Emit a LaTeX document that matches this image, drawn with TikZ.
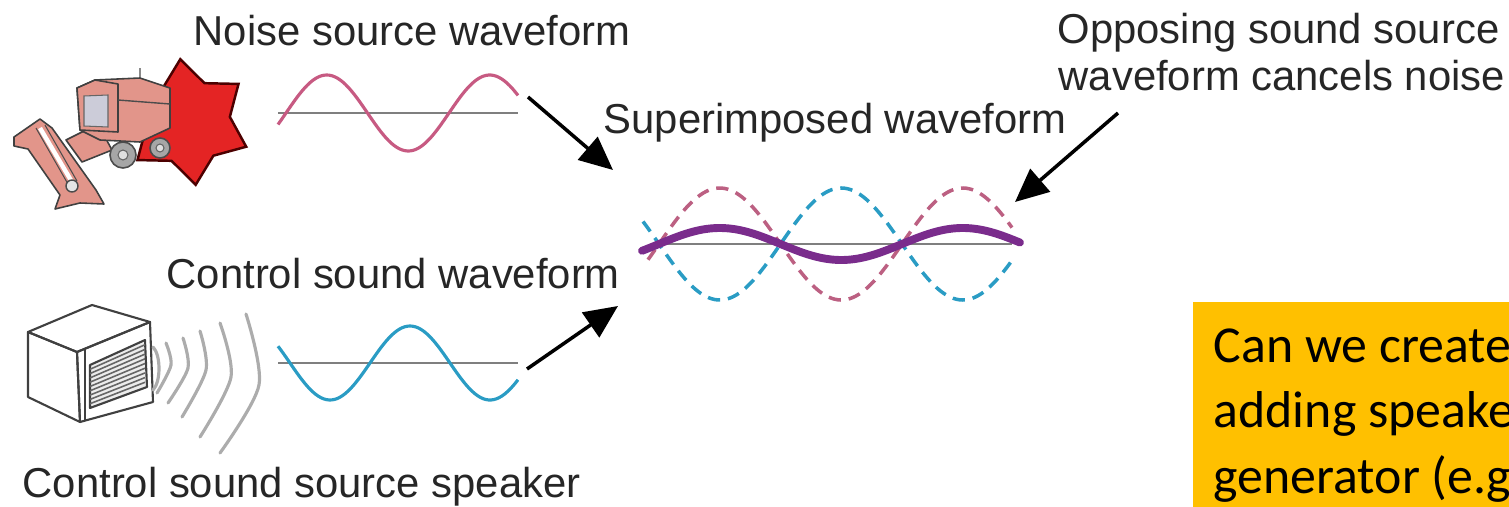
\documentclass[tikz,border=0pt]{standalone}
\usepackage{fontspec}
\setmainfont{Liberation Sans}
\newfontfamily\calfont{Carlito}
\usepackage{tikz}
\usetikzlibrary{arrows.meta,shapes.geometric}

\definecolor{noisepink}{HTML}{C75A82}
\definecolor{ctrlblue}{HTML}{2A9CC4}
\definecolor{mixpurple}{HTML}{7A2C8C}
\definecolor{axisgray}{HTML}{7F7F7F}
\definecolor{hullred}{HTML}{E2958A}
\definecolor{starred}{HTML}{E42424}
\definecolor{notegold}{HTML}{FFC000}

\tikzset{
  lbl/.style={anchor=base west, inner sep=0pt, text=black!85,
    font=\fontsize{23.8}{28}\selectfont},
  qtxt/.style={anchor=base west, inner sep=0pt,
    font=\calfont\fontsize{29.5}{36}\selectfont},
  pointer/.style={line width=2pt, -{Triangle[length=19pt, width=17pt]}},
  axis/.style={axisgray, line width=1.7pt},
  hull/.style={fill=hullred, draw=black!75, line width=0.9pt, line join=round},
  wave/.style={line width=1.8pt, gray!65, line cap=round},
}

\begin{document}
\begin{tikzpicture}[thick, x=0.02cm, y=-0.02cm]
  \useasboundingbox (0, 0) rectangle (1509, 507);
  \clip (0, 0) rectangle (1509, 507);

  % Red burst behind the harvester
  \node (burst) [star, star points=6, star point ratio=1.5, minimum size=72pt,
    shape border rotate=7, fill=starred, draw=black!70!red, line width=1.4pt]
    at (188, 122) {};

  % Combine harvester: cutter bar, feeder, body, cab
  \draw [hull] (14, 137) -- (40, 119) -- (52, 128) -- (96, 190) -- (104, 204)
    -- (80, 203) -- (55, 209) -- (60, 195) -- (28, 149) -- (14, 146) -- cycle;
  \draw [white, line width=2.5pt] (40, 128) -- (72, 182);
  \draw [black!70, line width=0.6pt] (36, 128) -- (68, 184) (45, 125) -- (77, 181);
  \draw [hull] (66, 140) -- (98, 124) -- (112, 150) -- (82, 162) -- cycle;
  \draw [hull] (77, 88) -- (95, 80) -- (140, 78) -- (170, 88) -- (170, 128)
    -- (140, 142) -- (100, 140) -- (80, 130) -- cycle;
  \draw [hull] (77, 88) -- (95, 80) -- (118, 84) -- (118, 132) -- (80, 130) -- cycle;
  \draw [fill=blue!15!gray!35, draw=black!60, line width=0.6pt]
    (84, 96) -- (108, 95) -- (108, 127) -- (84, 126) -- cycle;
  \draw [black!70, line width=0.8pt] (118, 100) -- (170, 104) (140, 78) -- (140, 68);
  \draw [fill=white!80!gray, draw=black!70, line width=0.8pt] (72, 186) circle (6);
  \draw [fill=gray!70, draw=black!70, line width=0.9pt] (123, 155) circle (13);
  \draw [fill=gray!25, draw=black!60, line width=0.6pt] (123, 155) circle (5);
  \draw [fill=gray!70, draw=black!70, line width=0.9pt] (160, 148) circle (10);
  \draw [fill=gray!25, draw=black!60, line width=0.6pt] (160, 148) circle (4);

  % Loudspeaker box
  \begin{scope}[fill=white, draw=black!75, line width=1.2pt, line join=round]
    \draw (28, 332) -- (92, 305) -- (150, 322) -- (77, 352) -- cycle;
    \draw (28, 332) -- (77, 352) -- (80, 422) -- (28, 397) -- cycle;
    \draw (77, 352) -- (150, 322) -- (153, 402) -- (80, 422) -- cycle;
    \draw (85, 349) -- (85, 420);
    \draw [fill=gray!15] (90, 365) -- (145, 340) -- (147, 387) -- (90, 408) -- cycle;
  \end{scope}
  \foreach \t in {0.1, 0.2, ..., 0.91}
    \draw [black!60, line width=0.9pt]
      (90, {365 + 43*\t}) -- (145, {340 + 47*\t});
  \draw [wave] (153, 347) .. controls (161, 355) and (161, 382) .. (153, 390);

  % Sound rings
  \draw [wave] plot [smooth] coordinates {(166, 343) (171, 365) (157, 393)};
  \draw [wave] plot [smooth] coordinates {(183, 338) (188, 368) (168, 403)};
  \draw [wave] plot [smooth] coordinates {(200, 331) (206, 370) (182, 417)};
  \draw [wave] plot [smooth] coordinates {(220, 323) (231, 377) (200, 437)};
  \draw [wave] plot [smooth] coordinates {(246, 314) (259, 385) (220, 453)};

  % Noise source waveform
  \draw [axis] (278, 113) -- (518, 113);
  \draw [domain=278:518, samples=90, smooth, noisepink, line width=1.8pt]
    plot (\x, {113 - 38*sin((\x - 286)/163*360)});
  \coordinate (noiseout) at (528, 97);

  % Control sound waveform
  \draw [axis] (278, 363) -- (518, 363);
  \draw [domain=278:518, samples=90, smooth, ctrlblue, line width=1.8pt]
    plot (\x, {363 + 37*sin((\x - 290)/160*360)});
  \coordinate (ctrlout) at (527, 369);

  % Superimposed waveform
  \draw [axis] (653, 244) -- (1012, 244);
  \draw [domain=648:1012, samples=120, smooth, noisepink!85!gray,
    line width=2pt, dash pattern=on 7pt off 4.5pt]
    plot (\x, {244 - 56*sin((\x - 659)/243*360)});
  \draw [domain=643:1012, samples=120, smooth, ctrlblue,
    line width=2pt, dash pattern=on 7pt off 4.5pt]
    plot (\x, {244 + 56*sin((\x - 659)/243*360)});
  \draw [domain=642:1020, samples=120, smooth, mixpurple,
    line width=4.5pt, line cap=round]
    plot (\x, {244 - 16*sin((\x - 659)/243*360)});
  \coordinate (mixtop) at (613, 170);
  \coordinate (mixbot) at (618, 306);
  \coordinate (mixright) at (1015, 202);

  % Labels
  \node (noiselbl) [lbl] at (193, 45) {Noise source waveform};
  \node (mixlbl) [lbl] at (603, 133) {Superimposed waveform};
  \node (ctrllbl) [lbl] at (166, 288) {Control sound waveform};
  \node (spklbl) [lbl] at (22, 497) {Control sound source speaker};
  \node (opplbl) [lbl] at (1057, 43) {Opposing sound source};
  \node (opplbl2) [lbl] at (1058, 90) {waveform cancels noise};
  \coordinate (oppout) at (1118, 113);

  % Arrows into the superimposed waveform
  \draw [pointer] (noiseout) -- (mixtop);
  \draw [pointer] (ctrlout) -- (mixbot);
  \draw [pointer] (oppout) -- (mixright);

  % Question box, running off the page edge
  \fill [notegold] (1193, 302) rectangle (1520, 520);
  \node (q1) [qtxt] at (1213, 362) {Can we create};
  \node (q2) [qtxt] at (1213, 427) {adding speake};
  \node (q3) [qtxt] at (1213, 493) {generator (e.g};
\end{tikzpicture}
\end{document}
